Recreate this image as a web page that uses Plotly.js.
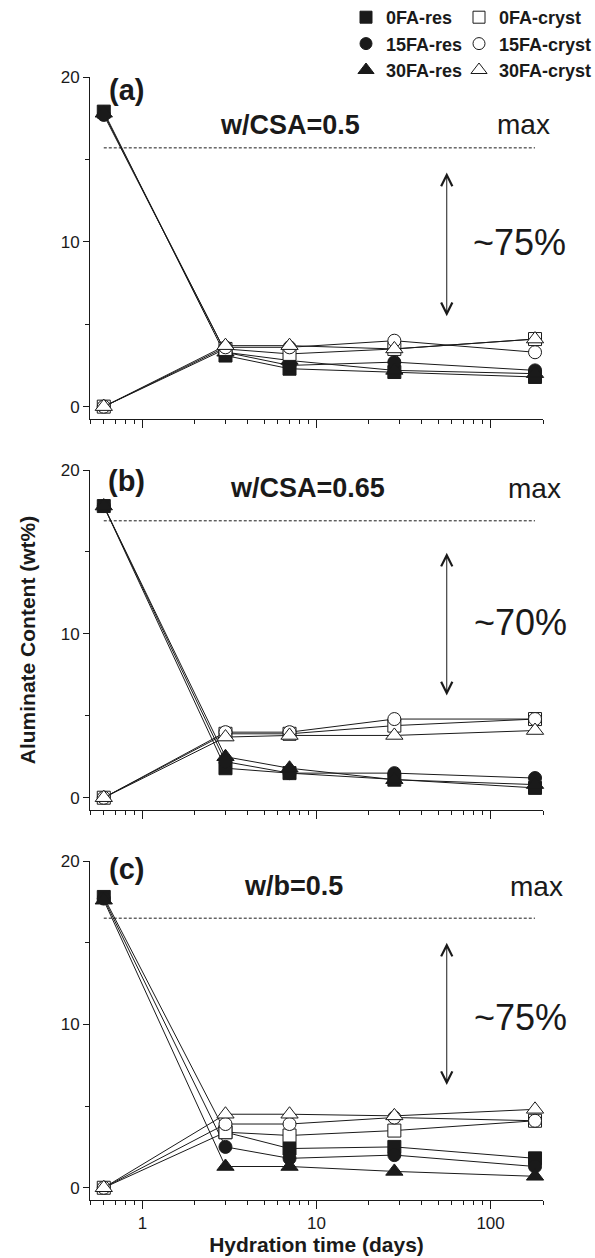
<!DOCTYPE html>
<html>
<head>
<meta charset="utf-8">
<script src="https://cdn.plot.ly/plotly-3.0.1.min.js"></script>
<style>html,body{margin:0;padding:0;background:#fff;}#chart{width:595px;height:1258px;}</style>
</head>
<body>
<div id="chart"></div>
<script>
// ---- data ----
const days = [0.6, 3, 7, 28, 180];
const seriesNames = ['0FA-res', '15FA-res', '30FA-res', '0FA-cryst', '15FA-cryst', '30FA-cryst'];

// panel (a) w/CSA=0.5
const a_0FA_res   = [17.9, 3.1, 2.3, 2.1, 1.8];
const a_15FA_res  = [17.7, 3.3, 2.5, 2.7, 2.2];
const a_30FA_res  = [17.8, 3.3, 2.8, 2.2, 2.0];
const a_0FA_cryst = [0, 3.5, 3.2, 3.5, 4.1];
const a_15FA_cryst= [0, 3.6, 3.6, 4.0, 3.3];
const a_30FA_cryst= [0, 3.7, 3.7, 3.5, 4.1];

// panel (b) w/CSA=0.65
const b_0FA_res   = [17.8, 1.8, 1.5, 1.1, 0.6];
const b_15FA_res  = [17.8, 2.2, 1.5, 1.5, 1.2];
const b_30FA_res  = [17.8, 2.5, 1.8, 1.1, 0.8];
const b_0FA_cryst = [0, 3.9, 3.9, 4.4, 4.8];
const b_15FA_cryst= [0, 4.0, 4.0, 4.8, 4.8];
const b_30FA_cryst= [0, 3.7, 3.8, 3.8, 4.1];

// panel (c) w/b=0.5
const c_0FA_res   = [17.8, 3.4, 2.4, 2.5, 1.8];
const c_15FA_res  = [17.7, 2.5, 1.8, 2.0, 1.3];
const c_30FA_res  = [17.6, 1.3, 1.3, 1.0, 0.7];
const c_0FA_cryst = [0, 3.4, 3.2, 3.5, 4.1];
const c_15FA_cryst= [0, 3.9, 3.9, 4.3, 4.1];
const c_30FA_cryst= [0, 4.5, 4.5, 4.4, 4.8];

const panelLetters = ['(a)', '(b)', '(c)'];
const panelConditions = ['w/CSA=0.5', 'w/CSA=0.65', 'w/b=0.5'];
const reductionLabels = ['~75%', '~70%', '~75%'];
const maxLevel = [15.7, 16.9, 16.5];        // dashed "max" line level
const arrowTop = [14.2, 14.95, 15.0];
const arrowBottom = [5.4, 6.15, 6.2];
const arrowDay = 56;
const xTickVals = [1, 10, 100];
const xTickText = ['1', '10', '100'];
const xMinorVals = [0.5,0.6,0.7,0.8,0.9,2,3,4,5,6,7,8,9,20,30,40,50,60,70,80,90,200];
const yTickVals = [0, 10, 20];
const yMinorVals = [5, 15];

// ---- styling ----
const FONT = 'Liberation Sans, Arial, Helvetica, sans-serif';
const INK = '#1a1a1a';
const W = 595, H = 1258;
const M = {l: 90, r: 52, t: 77, b: 58, autoexpand: false};
const PW = W - M.l - M.r, PH = H - M.t - M.b;
const px2x = px => (px - M.l) / PW;
const py2y = py => (H - M.b - py) / PH;

const styles = {
  '0FA-res':    {symbol: 'square',      color: INK,       size: 13},
  '15FA-res':   {symbol: 'circle',      color: INK,       size: 13},
  '30FA-res':   {symbol: 'triangle-up', color: INK,       size: 15},
  '0FA-cryst':  {symbol: 'square',      color: '#ffffff', size: 13},
  '15FA-cryst': {symbol: 'circle',      color: '#ffffff', size: 13},
  '30FA-cryst': {symbol: 'triangle-up', color: '#ffffff', size: 15}
};

const panels = [
  {ax: ['x', 'y'],  vals: [a_0FA_res, a_15FA_res, a_30FA_res, a_0FA_cryst, a_15FA_cryst, a_30FA_cryst]},
  {ax: ['x2', 'y2'], vals: [b_0FA_res, b_15FA_res, b_30FA_res, b_0FA_cryst, b_15FA_cryst, b_30FA_cryst]},
  {ax: ['x3', 'y3'], vals: [c_0FA_res, c_15FA_res, c_30FA_res, c_0FA_cryst, c_15FA_cryst, c_30FA_cryst]}
];

const traces = [];
panels.forEach((p, pi) => {
  seriesNames.forEach((name, si) => {
    const st = styles[name];
    traces.push({
      type: 'scatter', mode: 'lines+markers',
      x: days, y: p.vals[si],
      xaxis: p.ax[0], yaxis: p.ax[1],
      name: name, legendgroup: name, showlegend: false,
      line: {color: INK, width: 1},
      marker: {symbol: st.symbol, size: st.size, color: st.color, line: {color: INK, width: 1}},
      cliponaxis: false
    });
  });
});
// legend keys (marker only, as in the reference legend)
seriesNames.forEach((name, si) => {
  const st = styles[name];
  traces.push({
    type: 'scatter', mode: 'markers', x: [null], y: [null], xaxis: 'x', yaxis: 'y',
    name: name, legendgroup: name, showlegend: true,
    legend: si < 3 ? 'legend' : 'legend2',
    marker: {symbol: st.symbol, size: st.size - 1, color: st.color, line: {color: INK, width: 1}}
  });
});

// panel pixel geometry (top, bottom of plot area)
const panelPx = [[77, 419], [470, 810], [861, 1200]];

function xAxis(pi) {
  return {
    type: 'log', range: [Math.log10(0.5), Math.log10(200)],
    domain: [0, 1], anchor: ['y', 'y2', 'y3'][pi],
    showline: true, linecolor: INK, linewidth: 1, mirror: false,
    showgrid: false, zeroline: false,
    ticks: 'outside', ticklen: 8, tickwidth: 1, tickcolor: INK,
    tickmode: 'array', tickvals: xTickVals, ticktext: xTickText,
    showticklabels: pi === 2,
    tickfont: {family: FONT, size: 17, color: INK},
    minor: {tickmode: 'array', tickvals: xMinorVals, ticks: 'outside', ticklen: 4, tickwidth: 1, tickcolor: INK, showgrid: false},
    title: pi === 2 ? {text: 'Hydration time (days)', font: {family: FONT, size: 21, color: INK, weight: 'bold'}, standoff: 0} : {text: ''},
    automargin: false, fixedrange: true
  };
}
function yAxis(pi) {
  const [top, bot] = panelPx[pi];
  return {
    range: [-0.75, 20], domain: [py2y(bot), py2y(top)], anchor: ['x', 'x2', 'x3'][pi],
    showline: true, linecolor: INK, linewidth: 1,
    showgrid: false, zeroline: false,
    ticks: 'outside', ticklen: 6, tickwidth: 1, tickcolor: INK,
    tickmode: 'array', tickvals: yTickVals,
    tickfont: {family: FONT, size: 17, color: INK},
    minor: {tickmode: 'array', tickvals: yMinorVals, ticks: 'outside', ticklen: 4, tickwidth: 1, tickcolor: INK, showgrid: false},
    title: pi === 1 ? {text: 'Aluminate Content (wt%)', font: {family: FONT, size: 21, color: INK, weight: 'bold'}, standoff: 19} : {text: ''},
    automargin: false, fixedrange: true
  };
}

const shapes = [], annotations = [];
const letterPos = [[126, 90], [126, 481], [126, 869]];
const condPos = [[290, 125], [307, 488], [293, 886]];
const maxPos = [[523, 125], [534, 488], [536, 886]];
const pctPos = [[519, 243], [520, 622], [520, 1017]];
panels.forEach((p, pi) => {
  const xr = p.ax[0], yr = p.ax[1];
  shapes.push({type: 'line', xref: xr, yref: yr, x0: days[0], x1: days[days.length - 1], y0: maxLevel[pi], y1: maxLevel[pi],
               line: {color: INK, width: 1, dash: '3px,2px'}});
  annotations.push({xref: xr, yref: yr, axref: xr, ayref: yr,
    x: Math.log10(arrowDay), y: arrowTop[pi], ax: Math.log10(arrowDay), ay: arrowBottom[pi],
    text: '', showarrow: true, arrowside: 'end+start', arrowhead: 5, startarrowhead: 5,
    arrowsize: 2.2, startarrowsize: 2.2, arrowwidth: 1, arrowcolor: INK});
  annotations.push({xref: 'paper', yref: 'paper', x: px2x(letterPos[pi][0]), y: py2y(letterPos[pi][1]),
    text: panelLetters[pi], showarrow: false, xanchor: 'center', yanchor: 'middle',
    font: {family: FONT, size: 29, color: INK, weight: 'bold'}});
  annotations.push({xref: 'paper', yref: 'paper', x: px2x(condPos[pi][0]), y: py2y(condPos[pi][1]),
    text: panelConditions[pi], showarrow: false, xanchor: 'center', yanchor: 'middle',
    font: {family: FONT, size: 27, color: INK, weight: 'bold'}});
  annotations.push({xref: 'paper', yref: 'paper', x: px2x(maxPos[pi][0]), y: py2y(maxPos[pi][1]),
    text: 'max', showarrow: false, xanchor: 'center', yanchor: 'middle',
    font: {family: FONT, size: 28, color: INK}});
  annotations.push({xref: 'paper', yref: 'paper', x: px2x(pctPos[pi][0]), y: py2y(pctPos[pi][1]),
    text: reductionLabels[pi], showarrow: false, xanchor: 'center', yanchor: 'middle',
    font: {family: FONT, size: 36, color: INK}});
});

const legendCommon = {
  orientation: 'v', yanchor: 'top', xanchor: 'left',
  bgcolor: 'rgba(0,0,0,0)', borderwidth: 0, itemwidth: 30,
  tracegroupgap: 10, traceorder: 'normal',
  font: {family: FONT, size: 18, color: INK, weight: 'bold'},
  itemclick: false, itemdoubleclick: false
};

const layout = {
  width: W, height: H, margin: M,
  paper_bgcolor: '#fff', plot_bgcolor: '#fff',
  showlegend: true,
  legend: Object.assign({}, legendCommon, {x: px2x(346), y: py2y(-1)}),
  legend2: Object.assign({}, legendCommon, {x: px2x(459), y: py2y(-1)}),
  xaxis: xAxis(0), xaxis2: xAxis(1), xaxis3: xAxis(2),
  yaxis: yAxis(0), yaxis2: yAxis(1), yaxis3: yAxis(2),
  shapes: shapes, annotations: annotations
};

Plotly.newPlot('chart', traces, layout, {displayModeBar: false, staticPlot: true});
</script>
</body>
</html>
